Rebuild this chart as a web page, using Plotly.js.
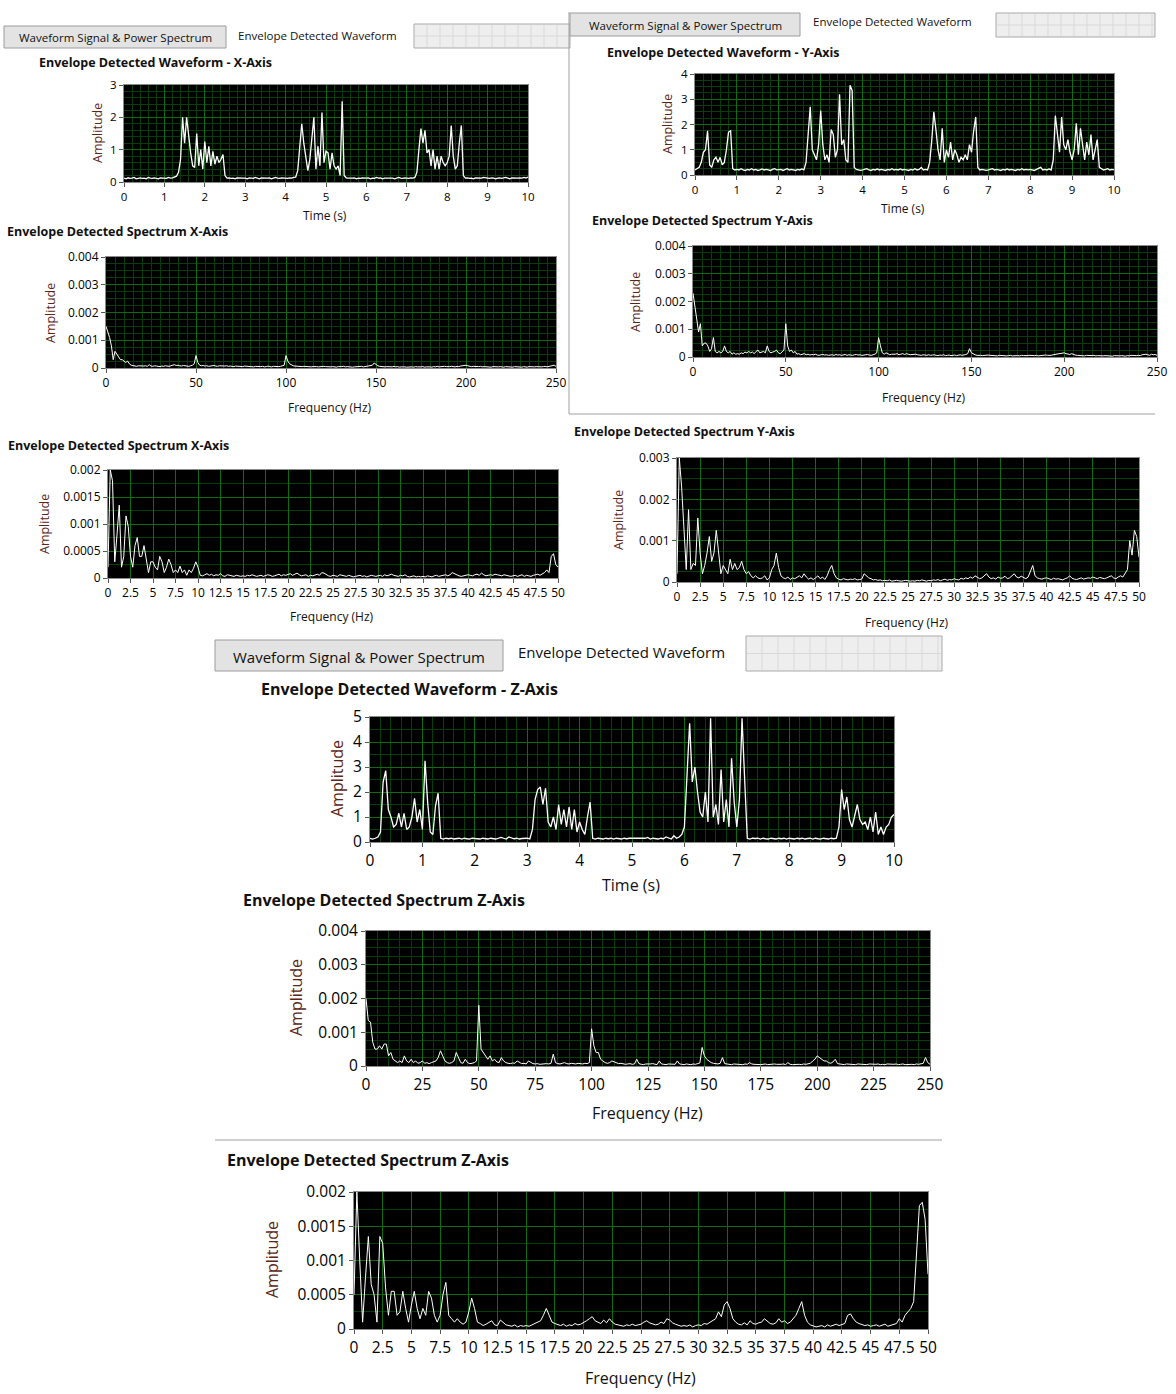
<!DOCTYPE html>
<html><head><meta charset="utf-8">
<script src="https://cdn.plot.ly/plotly-3.0.1.min.js"></script>
<style>html,body{margin:0;padding:0;background:#fff}#chart{width:1176px;height:1394px}</style>
</head><body><div id="chart"></div>
<script>
// ---------- DATA ----------
// Envelope detected waveforms, amplitude, sampled every 0.05 s from 0 to 10 s
const waveX = [
 .12,.1,.13,.11,.12,.14,.1,.12,.13,.11,.12,.1,.14,.12,.11,.13,.12,.1,.13,.12,
 .12,.11,.14,.12,.13,.15,.18,.3,.7,2.0,1.2,2.0,1.4,.9,.5,.45,1.5,.5,1.0,.4,
 1.25,.6,1.1,.5,.95,.55,.8,.6,.7,.85,.2,.12,.13,.11,.12,.1,.13,.12,.11,.12,
 .12,.1,.13,.12,.11,.14,.12,.1,.13,.12,.11,.12,.13,.1,.12,.14,.12,.11,.13,.12,
 .12,.11,.13,.12,.14,.15,.35,1.0,1.8,1.2,.8,.35,.7,1.3,2.0,.4,1.1,.5,2.15,.6,
 .95,.9,.4,.9,.5,.4,.5,.2,2.5,.2,.13,.12,.11,.12,.13,.1,.12,.11,.13,.12,
 .12,.13,.1,.12,.11,.14,.12,.13,.1,.12,.12,.11,.13,.12,.1,.12,.14,.12,.11,.13,
 .12,.11,.13,.12,.14,.3,1.0,1.65,1.2,1.6,.9,1.0,.5,1.0,.4,.8,.4,.8,.6,.5,
 .6,.8,1.75,.8,.4,.5,1.2,1.75,.2,.12,.13,.11,.12,.1,.13,.12,.11,.12,.14,.12,
 .12,.11,.13,.12,.1,.12,.13,.11,.12,.14,.12,.1,.13,.12,.11,.12,.13,.12,.14,.12,.15
];
const waveY = [
 .2,.25,.3,.5,.9,1.0,1.75,.4,.3,.6,.7,.5,.7,.4,.5,1.0,1.7,1.75,.25,.2,
 .22,.2,.25,.2,.18,.22,.2,.25,.2,.22,.18,.2,.24,.2,.22,.2,.18,.22,.25,.2,
 .2,.22,.18,.2,.25,.2,.22,.2,.18,.22,.2,.24,.2,.5,1.5,2.7,1.0,.8,.6,1.2,
 2.55,1.2,.6,.8,.5,1.8,1.6,.7,1.0,3.2,1.2,1.4,.6,.5,3.55,3.35,.3,.22,.2,.18,
 .2,.22,.25,.2,.18,.22,.2,.24,.2,.22,.2,.18,.22,.2,.25,.2,.22,.2,.24,.2,
 .22,.2,.18,.22,.2,.25,.2,.22,.3,.2,.22,.2,.5,1.35,2.5,1.8,1.0,.6,1.85,.5,
 1.0,.7,1.3,.6,1.0,.8,.5,.7,.6,.8,.6,1.2,.9,1.75,2.3,.3,.2,.22,.2,.18,
 .2,.22,.25,.2,.22,.2,.18,.22,.2,.24,.2,.22,.2,.18,.22,.2,.25,.2,.22,.2,
 .22,.2,.18,.22,.25,.3,.2,.22,.2,.24,.2,.6,2.35,1.5,.9,2.3,1.2,1.0,1.4,.9,
 .6,1.0,2.05,.8,1.85,1.2,.6,1.3,.8,1.6,.6,1.0,1.4,.3,.25,.2,.22,.25,.2,.22,.2
];
const waveZ = [
 .15,.12,.15,.2,.4,2.4,2.85,1.3,1.0,.6,.7,1.15,.6,1.15,.5,.6,1.0,1.75,.8,1.3,
 .5,3.25,1.6,.4,.3,1.45,1.95,.15,.12,.15,.13,.15,.12,.14,.15,.12,.15,.13,.12,.15,
 .14,.15,.12,.15,.13,.12,.15,.14,.12,.15,.18,.15,.12,.2,.15,.13,.15,.12,.14,.15,
 .15,.12,.5,1.7,2.1,2.2,1.5,2.15,.8,.6,1.0,.5,1.5,.7,1.3,.6,1.4,.5,1.3,.4,
 .8,.5,.3,1.0,1.6,.15,.12,.15,.14,.12,.15,.13,.15,.12,.15,.14,.12,.15,.13,.15,
 .15,.12,.14,.15,.12,.15,.18,.12,.15,.14,.12,.15,.13,.2,.15,.12,.25,.15,.2,.3,
 .6,3.0,4.75,2.4,3.0,2.0,1.2,1.0,2.0,.8,4.95,1.0,1.5,.7,2.9,.8,1.7,.6,3.35,1.6,
 .6,1.7,4.95,2.5,.15,.12,.15,.14,.15,.12,.15,.13,.12,.15,.14,.12,.15,.13,.15,.12,
 .15,.14,.12,.15,.13,.15,.12,.14,.15,.12,.15,.13,.12,.15,.14,.12,.15,.13,.15,.6,
 2.1,1.3,1.8,.9,.6,1.0,1.5,.9,.7,.8,.5,1.0,.4,1.2,.3,.6,.3,.6,.7,1.0,1.1
];
// Envelope spectra 0-250 Hz, 1 Hz bins, amplitude in units of 1e-4
const specX250 = [
 15,13,11,8,3,6,5,4,3,3,2.5,2,2.5,1.5,1,.8,.7,.6,.8,.7,.6,.7,.8,.6,1.2,
 .7,.6,.8,.7,.6,.5,.7,.6,.8,.7,.6,.8,1.0,1.2,.9,1.0,.8,.7,.9,.8,.7,.6,.8,1.0,1.5,
 4.5,2,1,.8,.9,.7,.8,.6,.7,.8,.9,.7,.6,.8,.7,.6,.7,.8,.6,.7,.6,.5,.7,.6,.5,
 .6,.5,.7,.6,.5,.6,.5,.4,.6,.5,.4,.5,.6,.4,.5,.7,.5,.4,.6,.5,.4,.5,.6,.8,1.0,
 4.5,2.5,1.5,1.0,.8,.7,.6,.7,.6,.5,.6,.5,.6,.5,.4,.5,.6,.5,.4,.5,.4,.6,.5,.4,.5,
 .4,.5,.4,.3,.5,.4,.5,.6,.4,.5,.4,.5,.3,.4,.5,.4,.5,.6,.4,.5,.7,.6,.8,1.0,1.8,
 1.2,.8,.6,.5,.6,.4,.5,.4,.5,.4,.6,.4,.5,.3,.4,.5,.4,.3,.4,.5,.4,.3,.5,.4,.3,
 .4,.5,.3,.4,.5,.4,.3,.5,.4,.6,.4,.5,.4,.6,.5,.4,.5,.6,.5,.4,.6,.5,.7,.8,1.0,
 1.0,.8,.6,.5,.6,.5,.4,.5,.6,.4,.5,.4,.5,.4,.3,.5,.4,.3,.4,.5,.4,.3,.5,.4,.3,
 .4,.3,.5,.4,.3,.4,.3,.5,.4,.3,.5,.4,.3,.4,.5,.4,.3,.4,.5,.6,.4,.5,.6,.8,1.0,
 .6
];
const specY250 = [
 23,18,15,9,12,4,5,5,4,2,3,7,2,1.5,2,1.5,2,4,2,1.5,2,1,1.5,1,1.2,
 1,1.5,1.2,1.8,1.5,2,1.5,1.8,1.2,2,2.5,1.5,1.8,2,1.5,4,2,1.5,1.8,2,2.5,1.5,1.2,2,2.5,
 12,4,2,2.5,1.5,2,1,1.2,.8,1,1.2,.8,1,.7,.9,.8,1,.7,.6,.8,.9,.7,.8,.6,.7,
 .8,.6,.9,.7,.8,.6,.7,.9,.6,.8,.7,.6,.8,.9,.7,.8,.6,.7,.8,.9,.7,.6,.8,1.0,1.5,
 7,4,1.5,1,1.5,1.2,.8,1,.9,1,1.2,.8,1,1.2,.9,1.2,1,.8,.9,1,1,.8,.7,.6,.8,
 .7,.6,.8,.6,.7,.8,.6,.5,.7,.6,.8,.5,.6,.7,.5,.6,.7,.5,.6,.8,.6,.7,.9,1.2,3,
 1.5,1,.8,.6,.7,.6,.5,.6,.5,.7,.6,.5,.6,.5,.4,.6,.5,.6,.5,.4,.5,.6,.4,.5,.6,
 .5,.4,.6,.5,.4,.5,.6,.5,.4,.5,.6,.4,.5,.6,.5,.7,.6,.5,.6,.8,.9,1.0,1.2,1.3,1.4,
 1.5,1.2,1,.9,1.2,.8,.7,.6,.5,.6,.5,.4,.6,.5,.4,.5,.6,.4,.5,.4,.3,.4,.5,.4,.3,
 .4,.3,.5,.4,.3,.4,.5,.4,.3,.5,.4,.6,.5,.4,.5,.6,.5,.8,.9,1.0,.8,.6,1.0,.8,.9,
 .6
];
const specZ250 = [
 20,13.5,13,7,5,5,6,5,6.5,6.5,3,4,2,1.5,1,1.5,1,3,1.5,1,2,1,1.5,.8,1,
 1.5,.8,1,.7,1,1.2,1.5,2.5,4.5,3,1.5,1,.8,1,1.5,4,2.5,1,.8,2,1,.7,.8,1,1.5,
 18,5,4,3,2,3,1.5,2,1.2,1,2.5,1.5,1,.8,.7,.9,.8,1.5,1,.7,.8,.6,1.5,1,.7,
 .6,.7,.5,.6,.8,.7,.6,.8,3.5,1,.7,.6,.8,1,.7,.6,.8,.7,.6,.8,.7,.6,.8,.7,1,
 11,6,4,4,2,1.5,1,.8,1,1.5,1.2,.9,.7,.8,.6,.5,.6,.7,.5,.6,2,.7,.5,.4,.6,
 .5,.6,.7,.5,.4,1.5,.6,.5,.4,.6,.5,.4,.5,1.5,.6,.5,.4,.6,.5,.4,.6,.5,.7,.9,5.5,
 3,2,1.5,1,.8,.7,.6,.8,2.5,.7,.6,.5,.4,.6,.5,.4,.5,.4,.6,.5,1,.6,.5,.4,.5,
 .4,.5,.6,.4,.5,.4,.6,.5,.4,.5,.6,.4,1,.5,.4,.5,.6,.5,.4,.6,.5,.6,.8,1.5,2,
 3,2.5,2,1.5,1.5,1,.8,1.2,2,.7,.6,.5,.4,.6,.5,.4,.5,.4,.6,.5,.4,.5,.4,.6,.5,
 .4,.5,.6,.4,.5,.4,.6,.5,.4,.5,.6,.4,.5,.6,.4,.5,.6,.5,.4,.6,.5,.6,.8,2.5,1,
 .5
];
// Envelope spectra 0-50 Hz, 0.25 Hz bins, amplitude in units of 1e-4
const specX50 = [
 2,20,18,3,8,13.5,2,4,11.5,9.5,4,2,6,7.5,4,4,6,3,1,3,
 3,2,1.5,4,3,1,2,3.5,2.5,1,1.5,1,2.2,1,1.5,.5,1.5,1,1.8,3,
 2,.5,.4,.6,.8,.5,.7,.4,.6,.5,.8,.4,.3,.6,.5,.4,.3,.5,.4,.3,
 .4,.3,.5,.4,.6,.5,.3,.4,.5,.3,.4,.6,.5,.3,.4,.5,.7,.4,.6,.5,
 .6,.8,.5,.7,.9,.6,.4,.5,.6,.3,.5,.4,.6,.7,.5,1.0,.9,.6,.4,.3,
 .5,.4,.3,.6,.5,.4,.3,.5,.4,.2,.3,.4,.5,.3,.4,.2,.3,.5,.4,.3,
 .4,.5,.3,.6,.4,.5,.7,.5,.4,.3,.5,.4,.6,.3,.2,.3,.4,.2,.3,.2,
 .3,.2,.4,.3,.2,.4,.5,.3,.4,.5,.6,.4,.6,1.0,.8,.5,.4,.3,.4,.5,
 .6,.5,.4,.6,.7,.5,.9,.6,.4,.5,.6,.5,.7,.6,.5,.4,.6,.5,.4,.3,
 .4,.5,.3,.4,.6,.3,.5,.4,.3,.5,.6,.7,.5,.8,1.0,1.5,1.0,4,4.5,2.5,
 2
];
const specY50 = [
 2,30,23,13,3,17.5,3,4.5,4,15.5,7,2,4,7,11,5,7,12.5,6.5,2,
 4,3,2,5.5,3,4.5,3,3.5,5,3,2,2.5,1.5,1,1.5,1,.8,1,1.5,.5,
 1,3,4,7,3.5,1.5,1,.8,1.2,.6,1,.8,1.2,1.5,1,2,1.2,.7,1,.6,
 1,1.5,.8,1.2,.6,1.5,3,4,2,1,.7,.5,.8,.6,.5,.7,.6,.8,.5,.6,
 .7,2,1.5,1,.8,.5,.6,.4,.5,.3,.4,.3,.5,.2,.3,.4,.3,.2,.3,.4,
 .3,.2,.3,.2,.4,.3,.5,.3,.2,.4,.3,.5,.4,.6,.3,.5,.7,.4,.6,.5,
 .8,.6,.5,.9,.7,1.0,.8,1.2,.9,1.5,1.2,.8,1.0,1.5,2,1.2,.8,1.0,.7,1.2,
 .9,1.0,1.4,.8,1.0,1.5,2,1.2,1.0,1.4,1.0,.8,1.2,2.5,4,1.5,1.0,.8,.7,.9,
 1.0,.8,.6,.9,.7,.8,.6,.5,.8,1.0,1.5,.9,.7,.6,.8,1.0,.7,.8,1.0,.9,
 1.2,1.0,.8,1.1,.9,.8,1.0,1.2,1.5,1.0,.8,1.2,1.5,1.2,2,3,10,6.5,12.5,11,
 6
];
const specZ50 = [
 5,20,10,1,7.5,13.5,6.5,5,1,13.5,12.5,6,2,5.5,5.5,2,2.5,5.5,3,1,
 3.5,5.5,3,1.5,3,2,5.5,4.5,2,1,2,5,6.8,2,1.5,1,1.5,1,.7,1,
 2.5,4.5,3,1,.8,.5,.7,1,1.2,.6,.5,1.3,.9,.6,.5,.4,.6,.3,.5,.4,
 .5,.4,.6,.8,1,1.2,2,3,2,1,.8,.6,.5,.7,.4,.6,.5,.8,.6,.7,
 .9,1.2,1.5,1.8,1.2,1,.8,1.3,.9,1.5,1.0,.7,.6,.5,.4,.6,.5,.7,.5,.6,
 .7,1.0,1.2,.9,.8,.6,.7,1.0,.8,1.5,1.3,.9,.7,.5,.4,.5,.4,.6,.3,.5,
 .6,.5,.8,.7,1.0,1.2,1.5,2.5,1.8,3.5,4,3,1.5,1.0,.7,.6,.9,.6,1.2,.8,
 .7,.9,1.0,1.5,1.2,.8,.7,.9,1.5,1.0,1.2,.8,1.0,1.5,2,3,4,2,1.0,.6,
 .5,.3,.4,.5,.3,.6,.4,.5,.7,.5,.6,.8,2,2.2,1.5,1.0,.8,.7,.5,.6,
 .4,.5,.6,.4,.5,.7,.4,.5,.6,.8,1.5,1.0,2,2.5,3,4,11,18,18.5,16,
 8
];
const SPEC_UNIT = 1e-4;

// Text
const tabButton = "Waveform Signal & Power Spectrum";
const tabLabel = "Envelope Detected Waveform";
const titles = ["Envelope Detected Waveform - X-Axis","Envelope Detected Spectrum X-Axis","Envelope Detected Spectrum X-Axis",
  "Envelope Detected Waveform - Y-Axis","Envelope Detected Spectrum Y-Axis","Envelope Detected Spectrum Y-Axis",
  "Envelope Detected Waveform - Z-Axis","Envelope Detected Spectrum Z-Axis","Envelope Detected Spectrum Z-Axis"];
const yTitle = "Amplitude";
const timeTitle = "Time (s)";
const freqTitle = "Frequency (Hz)";

// ---------- LAYOUT ----------
const W = 1176, H = 1394;
const FONT = "Open Sans, Noto Sans, sans-serif";
const fx = p => p / W, fy = p => 1 - p / H;

const panels = [
 {y: waveX, unit: 1, span: 10, px:[124,528], py:[85,182], yr:[0,3], ydt:1, ymin:0.2, xdt:1, xmin:0.2, fs:11.5, wave:true,
  title:[37,63], xt:[325,216, timeTitle], yt:[97,133]},
 {y: specX250, unit: SPEC_UNIT, span: 250, px:[106,556], py:[257,368], yr:[0,0.004], ydt:0.001, ymin:0.00025, xdt:50, xmin:5, fs:12,
  title:[5,232], xt:[330,407, freqTitle], yt:[50,313]},
 {y: specX50, unit: SPEC_UNIT, span: 50, px:[108,558], py:[470,578], yr:[0,0.002], ydt:0.0005, ymin:0.00025, xdt:2.5, xmin:null, fs:12,
  title:[6,445], xt:[332,616, freqTitle], yt:[44,524]},
 {y: waveY, unit: 1, span: 10, px:[695,1114], py:[74,175], yr:[0,4], ydt:1, ymin:0.25, xdt:1, xmin:0.2, fs:11.5, wave:true,
  title:[605,52], xt:[903,209, timeTitle], yt:[667,124]},
 {y: specY250, unit: SPEC_UNIT, span: 250, px:[693,1157], py:[246,357], yr:[0,0.004], ydt:0.001, ymin:0.00025, xdt:50, xmin:5, fs:12,
  title:[590,220], xt:[924,397, freqTitle], yt:[635,302]},
 {y: specY50, unit: SPEC_UNIT, span: 50, px:[677,1139], py:[458,582], yr:[0,0.003], ydt:0.001, ymin:0.00025, xdt:2.5, xmin:null, fs:12,
  title:[572,432], xt:[907,622, freqTitle], yt:[618,520]},
 {y: waveZ, unit: 1, span: 10, px:[370,894], py:[717,842], yr:[0,5], ydt:1, ymin:0.5, xdt:1, xmin:0.2, fs:15.5, wave:true,
  title:[259,689], xt:[631,885, timeTitle], yt:[337,779]},
 {y: specZ250, unit: SPEC_UNIT, span: 250, px:[366,930], py:[931,1066], yr:[0,0.004], ydt:0.001, ymin:0.00025, xdt:25, xmin:5, fs:15.5,
  title:[241,900], xt:[647,1113, freqTitle], yt:[296,998]},
 {y: specZ50, unit: SPEC_UNIT, span: 50, px:[354,928], py:[1192,1329], yr:[0,0.002], ydt:0.0005, ymin:0.00025, xdt:2.5, xmin:null, fs:15.5,
  title:[225,1160], xt:[640,1378, freqTitle], yt:[272,1260]}
];

const MAJOR = 'rgb(14,110,14)', MINOR = 'rgb(8,62,8)', AXIS = '#8a8a8a';
const traces = [], annotations = [], shapes = [];
const layout = {
  width: W, height: H, margin:{l:0,r:0,t:0,b:0}, showlegend:false,
  paper_bgcolor:'#ffffff', plot_bgcolor:'#000000', font:{family:FONT, color:'#000'}
};

function txt(text, px, py, size, o) {
  o = o || {};
  annotations.push(Object.assign({text, x:fx(px), y:fy(py), xref:'paper', yref:'paper', showarrow:false,
    xanchor:'left', yanchor:'middle', font:{family:FONT, size, color:'#111'}}, o));
}
function rect(x0,y0,x1,y1,fill,line,lw) {
  shapes.push({type:'rect', xref:'paper', yref:'paper', x0:fx(x0), x1:fx(x1), y0:fy(y1), y1:fy(y0),
    fillcolor:fill, line:{color:line, width: lw===undefined?1:lw}, layer:'below'});
}
function lineP(x0,y0,x1,y1,color,w) {
  shapes.push({type:'line', xref:'paper', yref:'paper', x0:fx(x0), x1:fx(x1), y0:fy(y0), y1:fy(y1),
    line:{color, width:w||1}, layer:'below'});
}

panels.forEach((p, i) => {
  const n = i + 1, sfx = (n===1?'':String(n)), xa = 'xaxis' + sfx, ya = 'yaxis' + sfx;
  const xs = p.y.map((_, k) => k * p.span / (p.y.length - 1));
  traces.push({type:'scatter', mode:'lines', x: xs, y: p.y.map(v => v * p.unit),
    xaxis:'x'+sfx, yaxis:'y'+sfx, line:{color:'#ffffff', width: p.wave ? 1.3 : 1}, hoverinfo:'skip'});
  const tickfont = {family:FONT, size:p.fs, color:'#000'};
  layout[xa] = {domain:[fx(p.px[0]), fx(p.px[1])], anchor:'y'+sfx, range:[0,p.span], dtick:p.xdt, tick0:0,
    showgrid:true, gridcolor:MAJOR, gridwidth:1, zeroline:false, showline:true, linecolor:AXIS, mirror:true,
    ticks:'outside', ticklen:4, tickcolor:'#555', tickfont, tickangle:0, exponentformat:'none', fixedrange:true};
  if (p.xmin) layout[xa].minor = {dtick:p.xmin, showgrid:true, gridcolor:MINOR, gridwidth:1, ticks:''};
  layout[ya] = {domain:[fy(p.py[1]), fy(p.py[0])], anchor:'x'+sfx, range:p.yr, dtick:p.ydt, tick0:0,
    showgrid:true, gridcolor:MAJOR, gridwidth:1, zeroline:false, showline:true, linecolor:AXIS, mirror:true,
    ticks:'outside', ticklen:4, tickcolor:'#555', tickfont, exponentformat:'none', fixedrange:true};
  if (p.ymin) layout[ya].minor = {dtick:p.ymin, showgrid:true, gridcolor:MINOR, gridwidth:1, ticks:''};
  const big = p.fs > 14;
  txt('<b>' + titles[i] + '</b>', p.title[0], p.title[1], big ? 16 : 12.5);
  txt(p.xt[2], p.xt[0], p.xt[1], big ? 16 : 12, {xanchor:'center'});
  txt(yTitle, p.yt[0], p.yt[1], big ? 16 : 12, {xanchor:'center', textangle:-90, font:{family:FONT, size: big?16:12.5, color:'#5a2617'}});
});

// Tab strips
function tabStrip(bx0, by0, bx1, by1, labelX, labelY, gx0, gy0, gx1, gy1, fsz, cell) {
  rect(bx0, by0, bx1, by1, '#e3e3e3', '#9c9c9c');
  txt(tabButton, (bx0+bx1)/2, (by0+by1)/2 + 1, fsz, {xanchor:'center'});
  txt(tabLabel, labelX, labelY, fsz);
  rect(gx0, gy0, gx1, gy1, '#eeeeee', '#a9a9a9');
  for (let x = gx0 + cell; x < gx1 - 2; x += cell) lineP(x, gy0+1, x, gy1-1, '#d9d9d9', 1);
  lineP(gx0+1, (gy0+gy1)/2, gx1-1, (gy0+gy1)/2, '#d9d9d9', 1);
}
tabStrip(4, 26, 226, 48, 236, 35, 414, 24, 570, 48, 11.5, 13);
tabStrip(570, 13, 800, 36, 811, 22, 996, 13, 1155, 37, 11.5, 13);
tabStrip(215, 640, 503, 671, 516, 652, 746, 636, 942, 671, 15, 16);

// Separators
lineP(569, 12, 569, 414, '#a0a0a0', 1);
lineP(569, 414, 1155, 414, '#a0a0a0', 1);
lineP(215, 1140, 942, 1140, '#a0a0a0', 1);

layout.annotations = annotations;
layout.shapes = shapes;
Plotly.newPlot('chart', traces, layout, {staticPlot:true, displayModeBar:false});
</script>
</body></html>
